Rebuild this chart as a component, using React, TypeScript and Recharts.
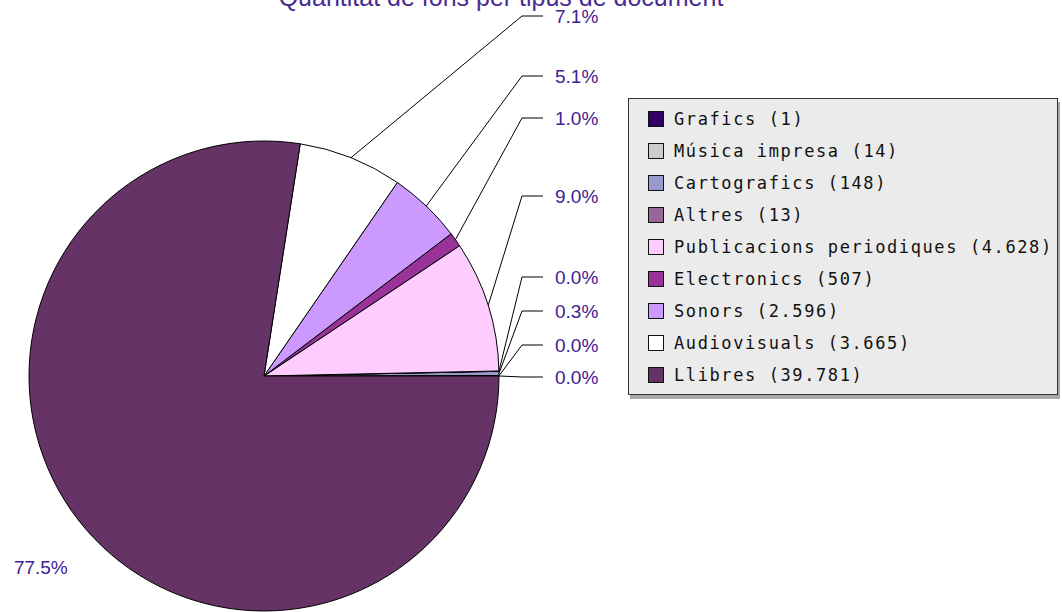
import React from 'react';
import { PieChart, Pie, Cell, Legend } from 'recharts';

// Document types, in the order the pie draws them (counter-clockwise from 3 o'clock)
const categories = [
  'Grafics',
  'Música impresa',
  'Cartografics',
  'Altres',
  'Publicacions periodiques',
  'Electronics',
  'Sonors',
  'Audiovisuals',
  'Llibres',
];
const counts = [1, 14, 148, 13, 4628, 507, 2596, 3665, 39781];
const colors = ['#330066', '#cccccc', '#9999cc', '#996699', '#ffccff', '#993399', '#cc99ff', '#ffffff', '#663366'];

const TITLE = 'Quantitat de fons per tipus de document';
const LABEL_COLOR = '#3f2191';

// label column rows (offset from the pie centre); null = label sits outside the slice
const labelRows: (number | null)[] = [1, -31, -65, -99, -180, -258, -300, -360, null];

const W = 1062;
const H = 612;
const CX = 264;
const CY = 376;
const R = 235;
const RADIAN = Math.PI / 180;

/** 4628 -> "4.628" (Catalan thousands separator) */
function fmtCount(n: number): string {
  return String(n).replace(/\B(?=(\d{3})+(?!\d))/g, '.');
}

const chartData = categories.map((name, i) => ({ name, value: counts[i] }));

interface LabelProps {
  cx: number;
  cy: number;
  midAngle: number;
  outerRadius: number;
  percent: number;
  index: number;
}

function renderLabel({ cx, cy, midAngle, outerRadius, percent, index }: LabelProps) {
  const text = `${(percent * 100).toFixed(1)}%`;
  const cos = Math.cos(-midAngle * RADIAN);
  const sin = Math.sin(-midAngle * RADIAN);
  const row = labelRows[index];

  if (row === null || row === undefined) {
    const r = outerRadius * 1.25;
    return (
      <text x={cx + r * cos} y={cy + r * sin} fill={LABEL_COLOR} fontSize={19}
        fontFamily="'Liberation Sans', Arial, sans-serif" textAnchor="middle" dominantBaseline="central">
        {text}
      </text>
    );
  }

  const sx = cx + outerRadius * cos;
  const sy = cy + outerRadius * sin;
  const ly = cy + row;
  const kneeX = cx + outerRadius + 23;
  const endX = cx + outerRadius + 44;
  return (
    <g>
      <polyline points={`${sx},${sy} ${kneeX},${ly} ${endX},${ly}`} fill="none" stroke="#000" strokeWidth={1} />
      <text x={cx + outerRadius + 56} y={ly} fill={LABEL_COLOR} fontSize={19}
        fontFamily="'Liberation Sans', Arial, sans-serif" dominantBaseline="central">
        {text}
      </text>
    </g>
  );
}

function LegendBox() {
  return (
    <div
      style={{
        boxSizing: 'border-box',
        width: 430,
        height: 297,
        background: '#ebebeb',
        border: '1px solid #333',
        boxShadow: '2px 4px 0 #a9a9a9',
        padding: '4px 0 0 19px',
      }}
    >
      {categories.map((name, i) => (
        <div key={name} style={{ display: 'flex', alignItems: 'center', height: 32 }}>
          <span
            style={{
              width: 14,
              height: 14,
              background: colors[i],
              border: '1px solid #111',
              marginRight: 10,
              flex: 'none',
            }}
          />
          <span
            style={{
              fontFamily: "'DejaVu Sans Mono', 'Liberation Mono', monospace",
              fontSize: 17,
              letterSpacing: 1.6,
              color: '#111',
              whiteSpace: 'nowrap',
            }}
          >
            {name} ({fmtCount(counts[i])})
          </span>
        </div>
      ))}
    </div>
  );
}

export default function App() {
  return (
    <div style={{ position: 'fixed', left: 0, top: 0, width: W, height: H, background: '#fff', overflow: 'hidden' }}>
      <PieChart width={W} height={H} margin={{ top: 0, right: 0, bottom: 0, left: 0 }}>
        <text x={501} y={6} textAnchor="middle" fill="#4a2c90" fontSize={25}
          fontFamily="'Liberation Sans', Arial, sans-serif">
          {TITLE}
        </text>
        <Pie
          data={chartData}
          dataKey="value"
          nameKey="name"
          cx={CX}
          cy={CY}
          outerRadius={R}
          startAngle={0}
          endAngle={360}
          stroke="#000"
          strokeWidth={1}
          label={renderLabel}
          labelLine={false}
          isAnimationActive={false}
        >
          {chartData.map((d, i) => (
            <Cell key={d.name} fill={colors[i]} />
          ))}
        </Pie>
        <Legend
          layout="vertical"
          align="right"
          verticalAlign="top"
          content={() => <LegendBox />}
          wrapperStyle={{ left: 628, top: 98, width: 430 }}
        />
      </PieChart>
    </div>
  );
}
